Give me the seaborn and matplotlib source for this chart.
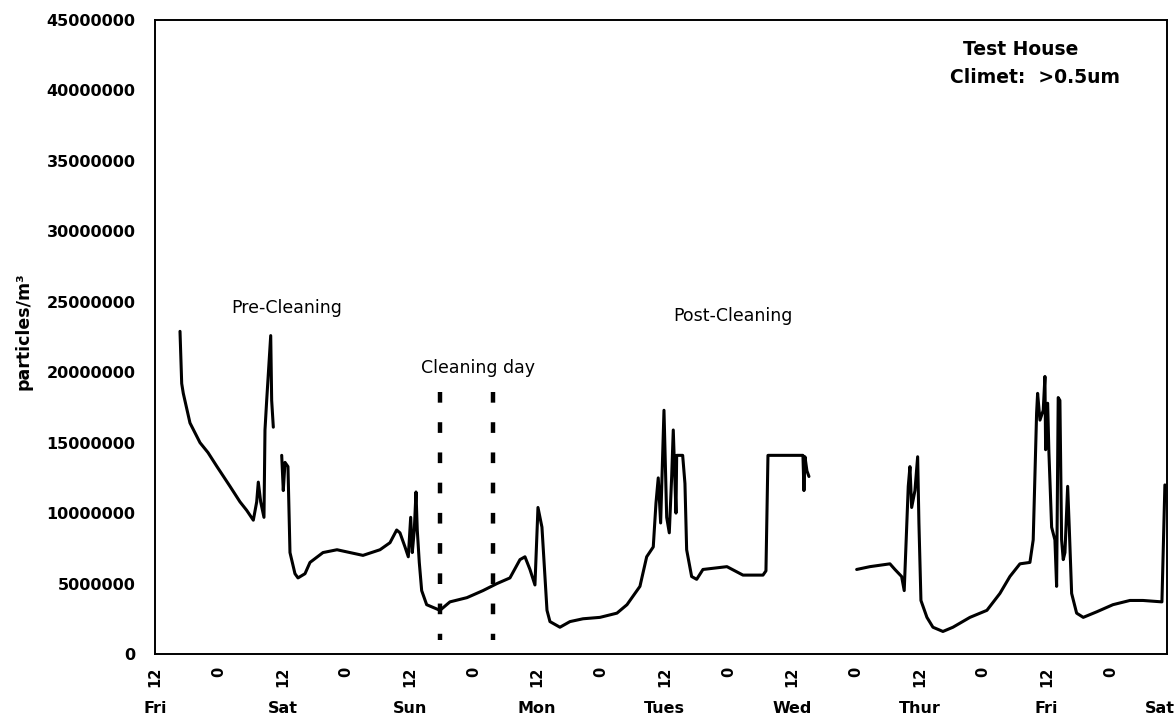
import matplotlib
matplotlib.use("Agg")
import matplotlib.pyplot as plt
from matplotlib.ticker import FuncFormatter, MultipleLocator
from matplotlib.transforms import offset_copy
import pandas as pd
import seaborn as sns

# Hours elapsed since Friday 12:00, and particle counts (millions of particles per m^3)
run1_hours = [4.71, 5.03, 5.33, 6.59, 8.48, 9.98, 11.68, 14.13, 16.01, 17.27, 18.52,
              19.16, 19.46, 19.91, 20.53, 20.72, 21.04, 21.80, 21.98, 22.29]
run1_counts = [22.9, 19.2, 18.5, 16.4, 15.0, 14.3, 13.3, 11.9, 10.8, 10.2, 9.5,
               10.8, 12.2, 10.8, 9.7, 15.9, 18.0, 22.6, 18.0, 16.1]

run2_hours = [23.87, 24.17, 24.49, 25.05, 25.43, 26.37, 26.94, 28.26, 29.20, 31.65,
              34.29, 36.73, 39.18, 42.39, 44.27, 45.53, 46.15, 47.10, 47.72, 48.17,
              48.47, 48.85, 49.17, 49.41, 49.79, 50.24, 51.18, 52.43, 53.69, 55.57,
              58.77, 61.79, 64.43, 66.87, 68.76, 69.70, 70.64, 71.58, 72.15, 72.90,
              73.85, 74.41, 76.29, 78.18, 80.63, 83.83, 87.03, 88.92, 91.36, 92.63,
              93.87, 94.38, 94.81, 95.26, 95.89, 96.40, 96.89, 97.34, 97.64, 98.15,
              98.28, 99.41, 99.84, 100.16, 101.10, 102.05, 103.23, 107.75, 110.77,
              114.54, 115.10, 115.48, 122.07, 122.26, 122.45, 122.82, 123.20]
run2_counts = [14.1, 11.6, 13.6, 13.3, 7.2, 5.7, 5.4, 5.7, 6.5, 7.2,
               7.4, 7.2, 7.0, 7.4, 7.9, 8.8, 8.6, 7.6, 6.9, 9.7,
               7.2, 8.8, 11.5, 8.8, 6.5, 4.5, 3.5, 3.3, 3.1, 3.7,
               4.0, 4.5, 5.0, 5.4, 6.7, 6.9, 6.0, 4.9, 10.4, 9.0,
               3.1, 2.3, 1.9, 2.3, 2.5, 2.6, 2.9, 3.5, 4.8, 6.9,
               7.6, 10.7, 12.5, 9.3, 17.3, 9.7, 8.6, 12.6, 15.9, 10.0,
               14.1, 14.1, 12.1, 7.4, 5.5, 5.3, 6.0, 6.2, 5.6,
               5.6, 5.9, 14.1, 14.1, 11.6, 14.0, 13.0, 12.6]

run3_hours = [132.19, 134.69, 138.46, 139.40, 140.66, 141.15, 141.91, 142.23, 142.55,
              143.17, 143.68, 143.92, 144.30, 145.43, 146.56, 148.44, 150.33, 153.53,
              156.73, 159.18, 161.06, 162.95, 164.83, 165.45, 166.09, 166.28, 166.72,
              167.34, 167.66, 167.79, 168.17, 168.41, 168.92, 169.54, 169.86, 170.16,
              170.48, 170.80, 171.11, 171.43, 171.94, 172.24, 172.69, 173.63, 174.88,
              177.45, 180.47, 183.67, 186.12, 189.70, 190.26]
run3_counts = [6.0, 6.2, 6.4, 6.0, 5.5, 4.5, 11.9, 13.3, 10.4,
               11.6, 14.0, 9.3, 3.8, 2.6, 1.9, 1.6, 1.9, 2.6,
               3.1, 4.3, 5.5, 6.4, 6.5, 8.1, 17.1, 18.5, 16.6,
               17.3, 19.7, 14.5, 17.8, 14.3, 9.0, 8.1, 4.8, 18.2,
               18.0, 8.1, 6.7, 7.2, 11.9, 9.0, 4.3, 2.9, 2.6,
               3.0, 3.5, 3.8, 3.8, 3.7, 12.0]

# Start and end of the cleaning day, and the vertical extent of its markers (millions)
cleaning_bounds = [53.7, 63.6]
marker_top, marker_bottom = 18.6, 1.0

day_names = ["Fri", "Sat", "Sun", "Mon", "Tues", "Wed", "Thur", "Fri", "Sat"]
x_end = 190.6

frames = []
for name, hrs, cnt in [("run1", run1_hours, run1_counts),
                       ("run2", run2_hours, run2_counts),
                       ("run3", run3_hours, run3_counts)]:
    frames.append(pd.DataFrame({"hours": hrs,
                                "particles": [c * 1e6 for c in cnt],
                                "run": name}))
df = pd.concat(frames, ignore_index=True)

sns.set_style("white")
plt.rcParams["font.family"] = ["DejaVu Sans"]
plt.rcParams["axes.edgecolor"] = "black"
plt.rcParams["text.color"] = "black"
plt.rcParams["axes.labelcolor"] = "black"

fig = plt.figure(figsize=(11.76, 7.26), dpi=100)
ax = fig.add_axes([155 / 1176, 1 - 654 / 726, 1011.7 / 1176, 634 / 726])

sns.lineplot(data=df, x="hours", y="particles", units="run", estimator=None,
             sort=False, color="black", linewidth=2.2, ax=ax, legend=False)

for xb in cleaning_bounds:
    ax.plot([xb, xb], [marker_top * 1e6, marker_bottom * 1e6], color="black",
            linewidth=3.2, linestyle=(0, (2.4, 4.4)), dash_capstyle="butt")

ax.set_xlim(0, x_end)
ax.set_ylim(0, 45e6)

for side in ax.spines.values():
    side.set_visible(True)
    side.set_linewidth(1.4)
    side.set_color("black")

ax.yaxis.set_major_locator(MultipleLocator(5e6))
ax.yaxis.set_major_formatter(FuncFormatter(lambda v, p: f"{v:.0f}"))

tick_hours = list(range(0, 192, 6))
tick_text = ["12" if h % 24 == 0 else ("0" if h % 24 == 12 else "") for h in tick_hours]
ax.set_xticks(tick_hours)
ax.set_xticklabels(tick_text, rotation=90, fontweight="bold", fontsize=10.5)

ax.tick_params(axis="y", direction="inout", length=8, width=1.1, pad=10,
               labelsize=11.5, colors="black")
ax.tick_params(axis="x", direction="inout", length=8, width=1.1, pad=5.4,
               colors="black")
for lab in ax.get_yticklabels():
    lab.set_fontweight("bold")

ax.set_xlabel("")
ax.set_ylabel("particles/m³", fontsize=12.5, fontweight="bold", color="black")
ax.yaxis.set_label_coords(-0.1206, 0.509)

# Day names under the hour ticks; the last one is pulled in so it stays on the canvas
day_trans = ax.get_xaxis_transform()
for i, name in enumerate(day_names):
    pos = i * 24
    if pos <= x_end:
        ax.text(pos, -0.0852, name, transform=day_trans, ha="center", va="center",
                fontsize=11.5, fontweight="bold", clip_on=False)
    else:
        ax.text(x_end, -0.0852, name,
                transform=offset_copy(day_trans, fig=fig, x=6, y=0, units="points"),
                ha="right", va="center", fontsize=11.5, fontweight="bold",
                clip_on=False)

ax.text(24.9, 24.56e6, "Pre-Cleaning", ha="center", va="center", fontsize=12.5)
ax.text(60.8, 20.3e6, "Cleaning day", ha="center", va="center", fontsize=12.5)
ax.text(108.9, 24.0e6, "Post-Cleaning", ha="center", va="center", fontsize=12.5)
ax.text(163.1, 42.9e6, "Test House", ha="center", va="center", fontsize=13.5,
        fontweight="bold")
ax.text(165.8, 40.9e6, "Climet:  >0.5um", ha="center", va="center", fontsize=13.5,
        fontweight="bold")

fig.savefig("out.png", dpi=100)
